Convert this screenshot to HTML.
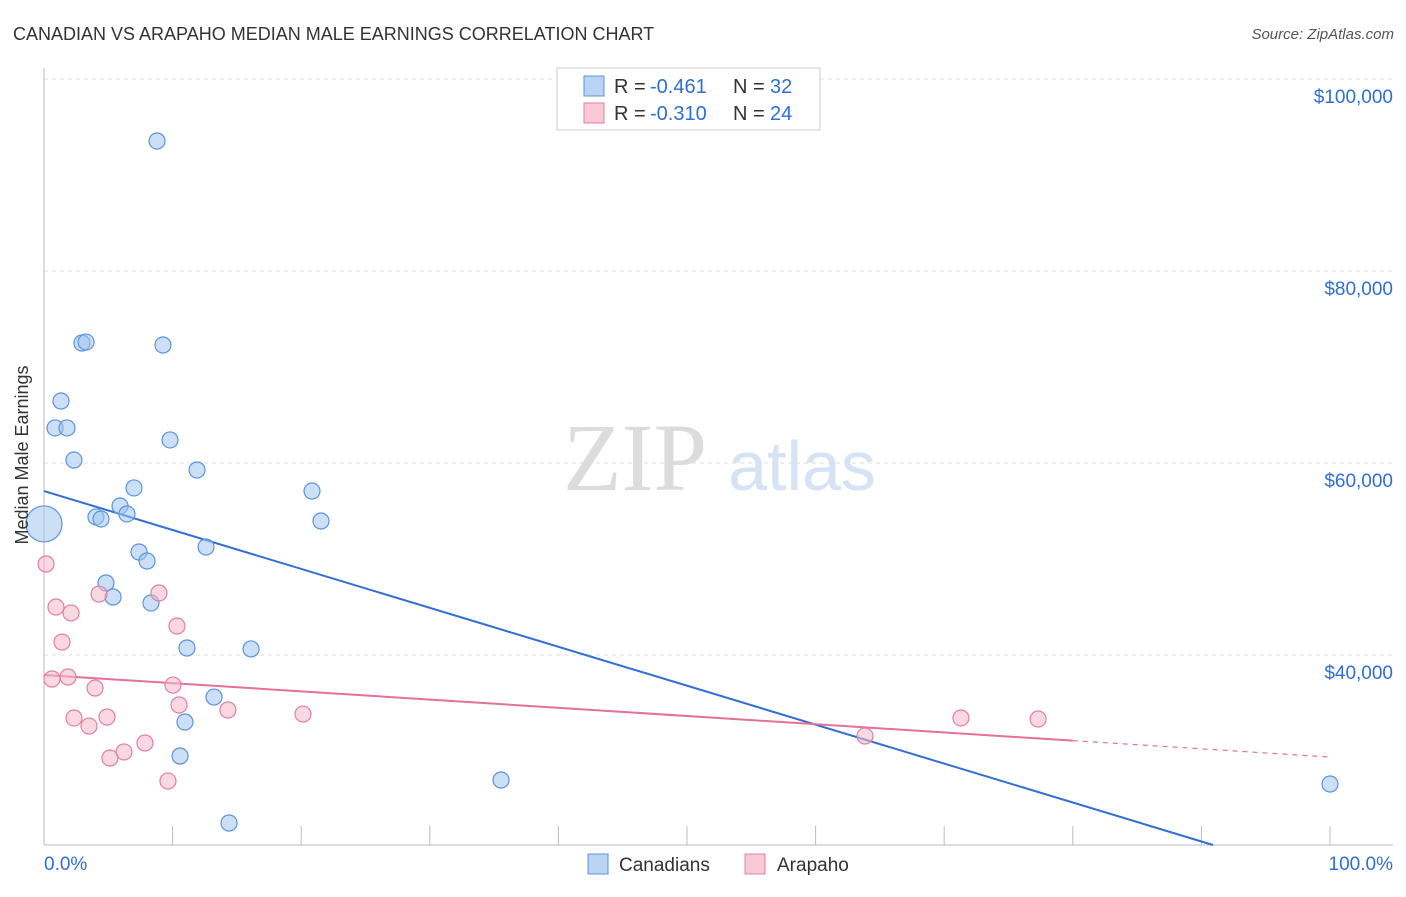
<!DOCTYPE html>
<html><head><meta charset="utf-8"><style>
body{margin:0;background:#fff;font-family:"Liberation Sans",sans-serif}
svg text{font-family:"Liberation Sans",sans-serif}
</style></head><body>
<svg id="c" width="1406" height="892" xmlns="http://www.w3.org/2000/svg">
<text x="13" y="40" font-size="18" fill="#333">CANADIAN VS ARAPAHO MEDIAN MALE EARNINGS CORRELATION CHART</text>
<text x="1394" y="39" font-size="15" fill="#555" text-anchor="end" font-style="italic">Source: ZipAtlas.com</text>
<text x="635" y="490" font-size="96" fill="#dcdcdc" text-anchor="middle" style="font-family:'Liberation Serif',serif">ZIP</text>
<text x="802" y="490" font-size="70" fill="#d5e3f5" text-anchor="middle">atlas</text>
<g id="grid"></g><g id="lines"></g><g id="pts"></g>
<text x="28" y="455" font-size="18" fill="#333" text-anchor="middle" transform="rotate(-90 28 455)">Median Male Earnings</text>
<g>
<rect x="557" y="68" width="263" height="62" fill="#fff" stroke="#ccc"/>
<rect x="584" y="76" width="20" height="20" fill="#b8d3f3" stroke="#5b94dc"/>
<text x="614" y="93" font-size="20" fill="#333">R =</text>
<text x="650" y="93" font-size="20" fill="#2f6fd6">-0.461</text>
<text x="733" y="93" font-size="20" fill="#333">N =</text>
<text x="770" y="93" font-size="20" fill="#2f6fd6">32</text>
<rect x="584" y="103" width="20" height="20" fill="#f8c8d6" stroke="#e27fa0"/>
<text x="614" y="120" font-size="20" fill="#333">R =</text>
<text x="650" y="120" font-size="20" fill="#2f6fd6">-0.310</text>
<text x="733" y="120" font-size="20" fill="#333">N =</text>
<text x="770" y="120" font-size="20" fill="#2f6fd6">24</text>
</g>
<g>
<rect x="588" y="854" width="20" height="20" fill="#b8d3f3" stroke="#5b94dc"/>
<text x="619" y="871" font-size="19" fill="#333">Canadians</text>
<rect x="745" y="854" width="20" height="20" fill="#f8c8d6" stroke="#e27fa0"/>
<text x="777" y="871" font-size="19" fill="#333">Arapaho</text>
</g>
</svg>
<script>
const yTicks=[40000,60000,80000,100000];
const yTickLabels=["$40,000","$60,000","$80,000","$100,000"];
const xEndLabels=["0.0%","100.0%"];
const blueX=[8.79,2.95,3.27,9.25,1.32,0.86,1.79,9.8,2.33,11.9,7.0,20.84,5.91,4.04,4.43,6.45,21.54,0,12.6,7.39,8.01,4.82,5.37,8.32,11.12,16.1,13.22,10.96,10.58,35.54,14.39,100];
const blueY=[93540,72500,72600,72290,66460,63650,63650,62400,60310,59270,57400,57080,55520,54380,54170,54690,53960,53650,51250,50730,49790,47500,46040,45420,40730,40630,35620,33020,29480,26980,22500,26560];
const pinkX=[0.16,0.93,2.1,4.28,8.94,1.4,10.34,0.62,1.87,3.97,10.03,2.33,3.5,4.9,10.5,14.3,20.14,7.85,6.22,5.13,9.64,63.84,71.3,77.3];
const pinkY=[49480,45000,44380,46350,46460,41350,43020,37500,37710,36560,36870,33440,32600,33540,34790,34270,33850,30830,29900,29270,26870,31560,33440,33330];
const blueTrend=[57080,-405.6];
const pinkTrend=[37920,-85.5];
const pinkSolidEnd=80;
const NS="http://www.w3.org/2000/svg";
const X=p=>44+p*12.86;
const Y=v=>655-(v-40000)*192/20000;
const yMin=20210;
function mk(t,a,parent){const e=document.createElementNS(NS,t);for(const k in a)e.setAttribute(k,a[k]);document.getElementById(parent).appendChild(e);return e;}
yTicks.forEach((v,i)=>{
 const l=mk('line',{x1:44,x2:1393,y1:Y(v),y2:Y(v),stroke:'#ddd','stroke-dasharray':'4 4'},'grid');
 
 
 const t=mk('text',{x:1393,y:Y(v)+24,'font-size':19,fill:'#2f6fd6','text-anchor':'end'},'grid');
 t.textContent=yTickLabels[i];
 
 
});
const ax=mk('line',{x1:44,x2:1393,y1:845,y2:845,stroke:'#bbb'},'grid');


const ay=mk('line',{x1:44,x2:44,y1:68,y2:845,stroke:'#bbb'},'grid');


for(let i=0;i<=10;i++){const t=mk('line',{x1:X(i*10),x2:X(i*10),y1:826,y2:845,stroke:'#bbb'},'grid');
 
 }
[[0,'start'],[100,'end']].forEach((d,i)=>{const t=mk('text',{x:i?1393:44,y:870,'font-size':19,fill:'#2f6fd6','text-anchor':d[1]},'grid');t.textContent=xEndLabels[i];
 
 });
const bEnd=(yMin-blueTrend[0])/blueTrend[1];
const bl=mk('line',{x1:X(0),y1:Y(blueTrend[0]),x2:X(bEnd),y2:Y(yMin),stroke:'#2f6fd6','stroke-width':2},'lines');


const pv=p=>pinkTrend[0]+pinkTrend[1]*p;
const pl=mk('line',{x1:X(0),y1:Y(pv(0)),x2:X(pinkSolidEnd),y2:Y(pv(pinkSolidEnd)),stroke:'#e3719a','stroke-width':2},'lines');


const pd=mk('line',{x1:X(pinkSolidEnd),y1:Y(pv(pinkSolidEnd)),x2:X(100),y2:Y(pv(100)),stroke:'#e3719a','stroke-width':1.2,'stroke-dasharray':'5 5'},'lines');


blueX.forEach((x,i)=>{const r=(x===0&&blueY[i]>53000&&blueY[i]<54000)?18:8;
 const c=mk('circle',{cx:X(x),cy:Y(blueY[i]),r:r,fill:'rgba(160,196,240,0.55)',stroke:'#5b94dc','stroke-width':1.2},'pts');
 
 });
pinkX.forEach((x,i)=>{const c=mk('circle',{cx:X(x),cy:Y(pinkY[i]),r:8,fill:'rgba(245,184,203,0.55)',stroke:'#e27fa0','stroke-width':1.2},'pts');
 
 });
</script>
</body></html>
